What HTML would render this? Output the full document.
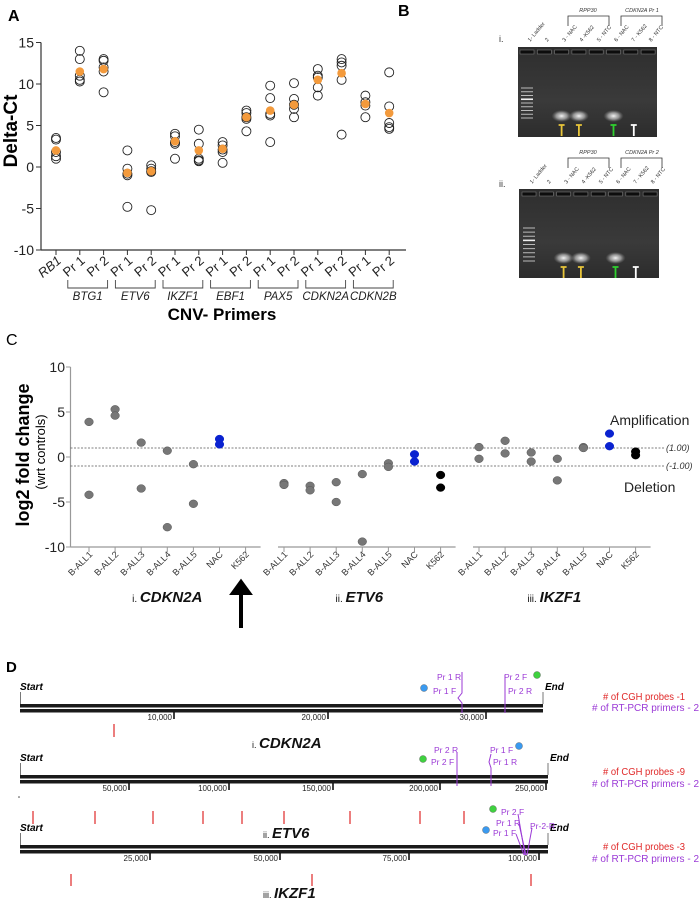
<!DOCTYPE html>
<html><head><meta charset="utf-8">
<style>
html,body{margin:0;padding:0;background:#fff;}
svg{display:block;font-family:"Liberation Sans",Arial,sans-serif;}
</style></head>
<body>
<svg id="fig" width="700" height="900" viewBox="0 0 700 900" xmlns="http://www.w3.org/2000/svg">
<defs>
<radialGradient id="band" cx="50%" cy="50%" r="50%">
<stop offset="0%" stop-color="#f4f4f4" stop-opacity="1"/>
<stop offset="55%" stop-color="#bdbdbd" stop-opacity="0.7"/>
<stop offset="100%" stop-color="#888" stop-opacity="0"/>
</radialGradient>
<linearGradient id="gelbg" x1="0" y1="0" x2="0" y2="1">
<stop offset="0%" stop-color="#2e2e2e"/>
<stop offset="60%" stop-color="#3a3a3a"/>
<stop offset="100%" stop-color="#2c2c2c"/>
</linearGradient>
</defs>
<g id="panelA"></g>
<g id="panelB"></g>
<g id="panelC"></g>
<g id="panelD"></g>
</svg>
<script>
// ---------- Panel A data ----------
const aCategories = ["RB1","Pr 1","Pr 2","Pr 1","Pr 2","Pr 1","Pr 2","Pr 1","Pr 2","Pr 1","Pr 2","Pr 1","Pr 2","Pr 1","Pr 2"];
const aGenes = ["BTG1","ETV6","IKZF1","EBF1","PAX5","CDKN2A","CDKN2B"];
const aValues = [
 [3.5,3.3,1.8,1.3,1.0],
 [14,13,11,10.5,10.3],
 [13,12.8,12,11.5,9],
 [2,-0.2,-0.8,-1,-4.8],
 [0.2,-0.2,-0.5,-0.6,-5.2],
 [4,3.7,3,2.8,1],
 [4.5,2.8,1,0.8,0.7],
 [3,2.6,2.1,1.8,0.5],
 [6.8,6.5,6,5.8,4.3],
 [9.8,8.3,6.4,6.2,3],
 [10.1,8.2,7.5,7,6],
 [11.8,11,10.8,9.6,8.6],
 [13,12.6,12.2,10.5,3.9],
 [8.6,7.8,7.4,6.0],
 [11.4,7.3,5.3,4.8,4.6]
];
const aMeans = [2.0,11.5,11.8,-0.7,-0.5,3.1,2.0,2.2,6.0,6.8,7.5,10.5,11.3,7.6,6.5];
const aTicks = [15,10,5,0,-5,-10];

// ---------- Panel C data ----------
const cGroups = ["CDKN2A","ETV6","IKZF1"];
const cGroupPrefix = ["i.","ii.","iii."];
const cCategories = ["B-ALL1","B-ALL2","B-ALL3","B-ALL4","B-ALL5","NAC","K562"];
const cCDKN2A = [[3.9,-4.2],[5.3,4.6],[1.6,-3.5],[0.7,-7.8],[-0.8,-5.2],[2.0,1.4],[]];
const cETV6 = [[-2.9,-3.1],[-3.2,-3.7],[-2.8,-5.0],[-1.9,-9.4],[-0.7,-1.1],[0.3,-0.5],[-2.0,-3.4]];
const cIKZF1 = [[1.1,-0.2],[1.8,0.4],[0.5,-0.5],[-0.2,-2.6],[1.1,1.0],[2.6,1.2],[0.6,0.2]];
const cTicks = [10,5,0,-5,-10];
const cThresholds = [1,-1];

const NS="http://www.w3.org/2000/svg";
function mk(tag, attrs, parent, txt){
  const e=document.createElementNS(NS,tag);
  for(const k in attrs) e.setAttribute(k,attrs[k]);
  if(txt!==undefined) e.textContent=txt;
  parent.appendChild(e);
  return e;
}
const A=document.getElementById('panelA');
const B=document.getElementById('panelB');
const C=document.getElementById('panelC');
const D=document.getElementById('panelD');

// ===== Panel A =====
const yA=v=>167-v*8.3;
const xA=i=>56+i*23.8;
let el;
el=mk('text',{x:8,y:21,'font-size':16,'font-weight':'bold'},A,'A');


el=mk('line',{x1:41,y1:yA(15),x2:41,y2:250,stroke:'#333','stroke-width':1.2},A);


el=mk('line',{x1:41,y1:250,x2:406,y2:250,stroke:'#333','stroke-width':1.2},A);


aTicks.forEach(t=>{
  const tk=mk('line',{x1:36,y1:yA(t),x2:41,y2:yA(t),stroke:'#333'},A);
  
  
  const tl=mk('text',{x:34,y:yA(t)+5,'font-size':14,'text-anchor':'end',fill:'#222'},A,String(t));
  
  
});
el=mk('text',{x:0,y:0,'font-size':19,'font-weight':'bold','text-anchor':'middle',transform:'translate(17,131) rotate(-90)'},A,'Delta-Ct');


aCategories.forEach((c,i)=>{
  const x=xA(i);
  const tk=mk('line',{x1:x,y1:250,x2:x,y2:255,stroke:'#333'},A);
  
  
  const t=mk('text',{x:0,y:0,'font-size':13,'text-anchor':'end','font-style':i===0?'italic':'normal',fill:'#222',transform:`translate(${x+6},${262}) rotate(-40)`},A,c);
  
  
  aValues[i].forEach(v=>{
    const p=mk('circle',{cx:x,cy:yA(v),r:4.5,fill:'none',stroke:'#222','stroke-width':0.9},A);
    
    
  });
  const m=mk('circle',{cx:x,cy:yA(aMeans[i]),r:4.3,fill:'#f39a3c'},A);
  
  
});
aGenes.forEach((g,k)=>{
  const x1=xA(2*k+1)-12, x2=xA(2*k+2)+4;
  const br=mk('path',{d:`M${x1} 280 V288 H${x2} V280`,fill:'none',stroke:'#444','stroke-width':0.9},A);
  
  
  const gl=mk('text',{x:(x1+x2)/2,y:300,'font-size':11.5,'font-style':'italic','text-anchor':'middle',fill:'#222'},A,g);
  
  
});
el=mk('text',{x:222,y:320,'font-size':17,'font-weight':'bold','text-anchor':'middle'},A,'CNV- Primers');



// ===== Panel B =====
el=mk('text',{x:398,y:16,'font-size':16,'font-weight':'bold'},B,'B');


const laneLabels=["1- Ladder","2","3 - NAC","4 -K562","5 - NTC","6 - NAC","7 - K562","8 - NTC"];
const gels=[
 {x:518,y:47,w:139,h:90,lab:'i.',labY:42,brY:16,g2:'CDKN2A Pr 1',lane0:527,wellY:52,bandY:116,arrowY:124,ladTop:88,ladBot:118},
 {x:519,y:189,w:140,h:89,lab:'ii.',labY:187,brY:158,g2:'CDKN2A Pr 2',lane0:529,wellY:194,bandY:258,arrowY:266,ladTop:228,ladBot:261}
];
const arrowCols=[['#e8c53a',2],['#e8c53a',3],['#2fd02f',5],['#ffffff',6]];
gels.forEach((G,gi)=>{
  const l=mk('text',{x:499,y:G.labY,'font-size':9,fill:'#333'},B,G.lab);
  
  
  const r=mk('rect',{x:G.x,y:G.y,width:G.w,height:G.h,fill:'url(#gelbg)'},B);
  
  
  const sp=17.3;
  laneLabels.forEach((ll,i)=>{
    const lx=G.lane0+i*sp;
    const t=mk('text',{x:0,y:0,'font-size':5.5,fill:'#333',transform:`translate(${lx+3},${G.y-5}) rotate(-50)`},B,ll);
    
    
    const w=mk('rect',{x:lx-7,y:G.wellY-2,width:14,height:4,fill:'#0d0d0d',stroke:'#777','stroke-width':0.6},B);
    
    
  });
  [2,3,5].forEach(i=>{
    const b=mk('ellipse',{cx:G.lane0+i*sp,cy:G.bandY,rx:10,ry:6,fill:'url(#band)'},B);
    
    
  });
  for(let k=0;k<9;k++){
    const yy=G.ladTop+k*(G.ladBot-G.ladTop)/8;
    const lb=mk('line',{x1:G.lane0-6,y1:yy,x2:G.lane0+6,y2:yy,stroke:k===3?'#eee':'#bbb','stroke-width':k===3?1.6:1},B);
    
    
  }
  arrowCols.forEach(([col,i])=>{
    const ax=G.lane0+i*sp+(i===6?3:0);
    const a=mk('path',{d:`M${ax} ${G.arrowY+12} V${G.arrowY+1} M${ax-3} ${G.arrowY+1} H${ax+3}`,stroke:col,'stroke-width':1.8,fill:'none'},B);
    
    
  });
  const b1=mk('path',{d:`M568 ${G.brY+10} V${G.brY} H609 V${G.brY+10}`,fill:'none',stroke:'#333','stroke-width':0.8},B);
  
  
  const t1=mk('text',{x:588,y:G.brY-4,'font-size':5.5,'font-style':'italic','text-anchor':'middle',fill:'#333'},B,'RPP30');
  
  
  const b2=mk('path',{d:`M621 ${G.brY+10} V${G.brY} H662 V${G.brY+10}`,fill:'none',stroke:'#333','stroke-width':0.8},B);
  
  
  const t2=mk('text',{x:642,y:G.brY-4,'font-size':5.5,'font-style':'italic','text-anchor':'middle',fill:'#333'},B,G.g2);
  
  
});

// ===== Panel C =====
const yC=v=>457-9*v;
const xC=(g,i)=>89+g*195+i*26.1;
const cData=[cCDKN2A,cETV6,cIKZF1];
el=mk('text',{x:6,y:345,'font-size':16},C,'C');


el=mk('line',{x1:70.5,y1:yC(10),x2:70.5,y2:547,stroke:'#999','stroke-width':1.2},C);


cTicks.forEach(t=>{
  const tk=mk('line',{x1:66,y1:yC(t),x2:70.5,y2:yC(t),stroke:'#999'},C);
  
  
  const tl=mk('text',{x:65,y:yC(t)+5,'font-size':14,'text-anchor':'end',fill:'#222'},C,String(t));
  
  
});
el=mk('text',{x:0,y:0,'font-size':18,'font-weight':'bold','text-anchor':'middle',transform:'translate(29,455) rotate(-90)'},C,'log2 fold change');


el=mk('text',{x:0,y:0,'font-size':13,'text-anchor':'middle',transform:'translate(45,452) rotate(-90)'},C,'(wrt controls)');


cThresholds.forEach((t,k)=>{
  const ln=mk('line',{x1:70.5,y1:yC(t),x2:664,y2:yC(t),stroke:'#555','stroke-width':0.8,'stroke-dasharray':'2,1.5'},C);
  
  
  const tl=mk('text',{x:666,y:yC(t)+3,'font-size':9,'font-style':'italic',fill:'#333'},C,'('+t.toFixed(2)+')');
  
  
});
el=mk('text',{x:610,y:425,'font-size':14,fill:'#222'},C,'Amplification');


el=mk('text',{x:624,y:492,'font-size':14,fill:'#222'},C,'Deletion');


cGroups.forEach((g,gi)=>{
  const x0=xC(gi,0)-(gi===0?18.5:6), x1=xC(gi,6)+15;
  const ax=mk('line',{x1:x0,y1:547,x2:x1,y2:547,stroke:'#999','stroke-width':1.2},C);
  
  
  cCategories.forEach((c,i)=>{
    const x=xC(gi,i);
    const tk=mk('line',{x1:x,y1:547,x2:x,y2:552,stroke:'#999'},C);
    
    
    const tl=mk('text',{x:0,y:0,'font-size':9,'text-anchor':'end',fill:'#333',transform:`translate(${x+4},${555}) rotate(-45)`},C,c);
    
    
    const col=c==='NAC'?'#0a22d0':(c==='K562'?'#000':'#777');
    cData[gi][i].forEach(v=>{
      const p=mk('ellipse',{cx:x,cy:yC(v),rx:4.3,ry:3.9,fill:col,stroke:c==='B-ALL1'||c.startsWith('B')?'#555':col,'stroke-width':0.5},C);
      
      
    });
  });
  const cx=xC(gi,3)+(gi===0?0:-3);
  const gt=mk('text',{x:cx,y:602,'text-anchor':'middle',fill:'#111'},C);
  
  
  mk('tspan',{'font-size':10},gt,cGroupPrefix[gi]+' ');
  mk('tspan',{'font-size':15,'font-weight':'bold','font-style':'italic'},gt,g);
});
el=mk('path',{d:'M241 628 V592 M233 593 L241 582 L249 593 Z',stroke:'#000','stroke-width':4,fill:'#000'},C);



// ===== Panel D =====
const purple='#9b3ad6', red='#e02828';
el=mk('text',{x:6,y:672,'font-size':15,'font-weight':'bold'},D,'D');


const tracks=[
 {ty:704,x2:543,gene:'CDKN2A',pre:'i.',geneY:748,geneX:252,
  ticks:[[174,'10,000'],[328,'20,000'],[486,'30,000']],
  probes:[114],probeY:[724,737],probesTxt:'# of CGH probes -1',txtY:[700,711],
  labels:[[437,677,'Pr 1 R'],[504,677,'Pr 2 F'],[433,691,'Pr 1 F'],[508,691,'Pr 2 R']],
  dots:[[537,675,'#3fd13f'],[424,688,'#3a9af0']],
  lines:['M462 672 V693 L458 698 L462 703 V713','M505 675 V713']},
 {ty:775,x2:548,gene:'ETV6',pre:'ii.',geneY:838,geneX:263,
  ticks:[[129,'50,000'],[229,'100,000'],[333,'150,000'],[440,'200,000'],[546,'250,000']],
  probes:[33,95,153,203,242,284,350,420,464],probeY:[811,824],probesTxt:'# of CGH probes -9',txtY:[775,787],
  labels:[[434,750,'Pr 2 R'],[490,750,'Pr 1 F'],[431,762,'Pr 2 F'],[493,762,'Pr 1 R']],
  dots:[[423,759,'#3fd13f'],[519,746,'#3a9af0']],
  lines:['M457 752 V786','M491 754 L489 762 L491 768 V786']},
 {ty:845,x2:548,gene:'IKZF1',pre:'iii.',geneY:898,geneX:263,
  ticks:[[150,'25,000'],[280,'50,000'],[409,'75,000'],[539,'100,000']],
  probes:[71,312,531],probeY:[874,886],probesTxt:'# of CGH probes -3',txtY:[850,862],
  labels:[[501,812,'Pr 2 F'],[496,823,'Pr 1 R'],[530,826,'Pr-2-R'],[493,833,'Pr 1 F']],
  dots:[[493,809,'#3fd13f'],[486,830,'#3a9af0']],
  lines:['M518 814 L525 855','M519 824 L526 855','M532 828 L527 855','M516 834 L524 855']}
];
tracks.forEach((T,ti)=>{
  const t1=mk('rect',{x:20,y:T.ty,width:T.x2-20,height:3.5,fill:'#1a1a1a'},D);
  
  
  const t2=mk('rect',{x:20,y:T.ty+5,width:T.x2-20,height:3.5,fill:'#1a1a1a'},D);
  
  
  const s1=mk('line',{x1:20.5,y1:T.ty-12,x2:20.5,y2:T.ty,stroke:'#555','stroke-width':0.8},D);
  
  
  const s2=mk('line',{x1:T.x2,y1:T.ty-12,x2:T.x2,y2:T.ty,stroke:'#555','stroke-width':0.8},D);
  
  
  const st=mk('text',{x:20,y:T.ty-14,'font-size':10,'font-weight':'bold','font-style':'italic'},D,'Start');
  
  
  const en=mk('text',{x:T.x2+2,y:T.ty-14,'font-size':10,'font-weight':'bold','font-style':'italic'},D,'End');
  
  
  T.ticks.forEach(([x,l])=>{
    const tk=mk('line',{x1:x,y1:T.ty+8,x2:x,y2:T.ty+15,stroke:'#111','stroke-width':1.6},D);
    
    
    const tl=mk('text',{x:x-2,y:T.ty+16,'font-size':8,'text-anchor':'end',fill:'#222'},D,l);
    
    
  });
  T.probes.forEach(x=>{
    const p=mk('line',{x1:x,y1:T.probeY[0],x2:x,y2:T.probeY[1],stroke:red,'stroke-width':1.2},D);
    
    
  });
  T.lines.forEach(d=>{
    const p=mk('path',{d:d,stroke:purple,'stroke-width':1,fill:'none'},D);
    
    
  });
  T.labels.forEach(([x,y,l])=>{
    const p=mk('text',{x:x,y:y+3,'font-size':8.5,fill:purple},D,l);
    
    
  });
  T.dots.forEach(([x,y,c])=>{
    const p=mk('circle',{cx:x,cy:y,r:3.5,fill:c,stroke:'#555','stroke-width':0.4},D);
    
    
  });
  const gl=mk('text',{x:T.geneX,y:T.geneY,fill:'#111'},D);
  
  
  mk('tspan',{'font-size':9},gl,T.pre+' ');
  mk('tspan',{'font-size':15,'font-weight':'bold','font-style':'italic'},gl,T.gene);
  const r1=mk('text',{x:685,y:T.txtY[0],'font-size':10,'text-anchor':'end',fill:red,textLength:82,lengthAdjust:'spacingAndGlyphs'},D,T.probesTxt);
  
  
  const r2=mk('text',{x:699,y:T.txtY[1],'font-size':10,'text-anchor':'end',fill:purple,textLength:107,lengthAdjust:'spacingAndGlyphs'},D,'# of RT-PCR primers - 2');
  
  
});
el=mk('circle',{cx:19,cy:797,r:0.8,fill:'#444'},D);


</script>
</body></html>
